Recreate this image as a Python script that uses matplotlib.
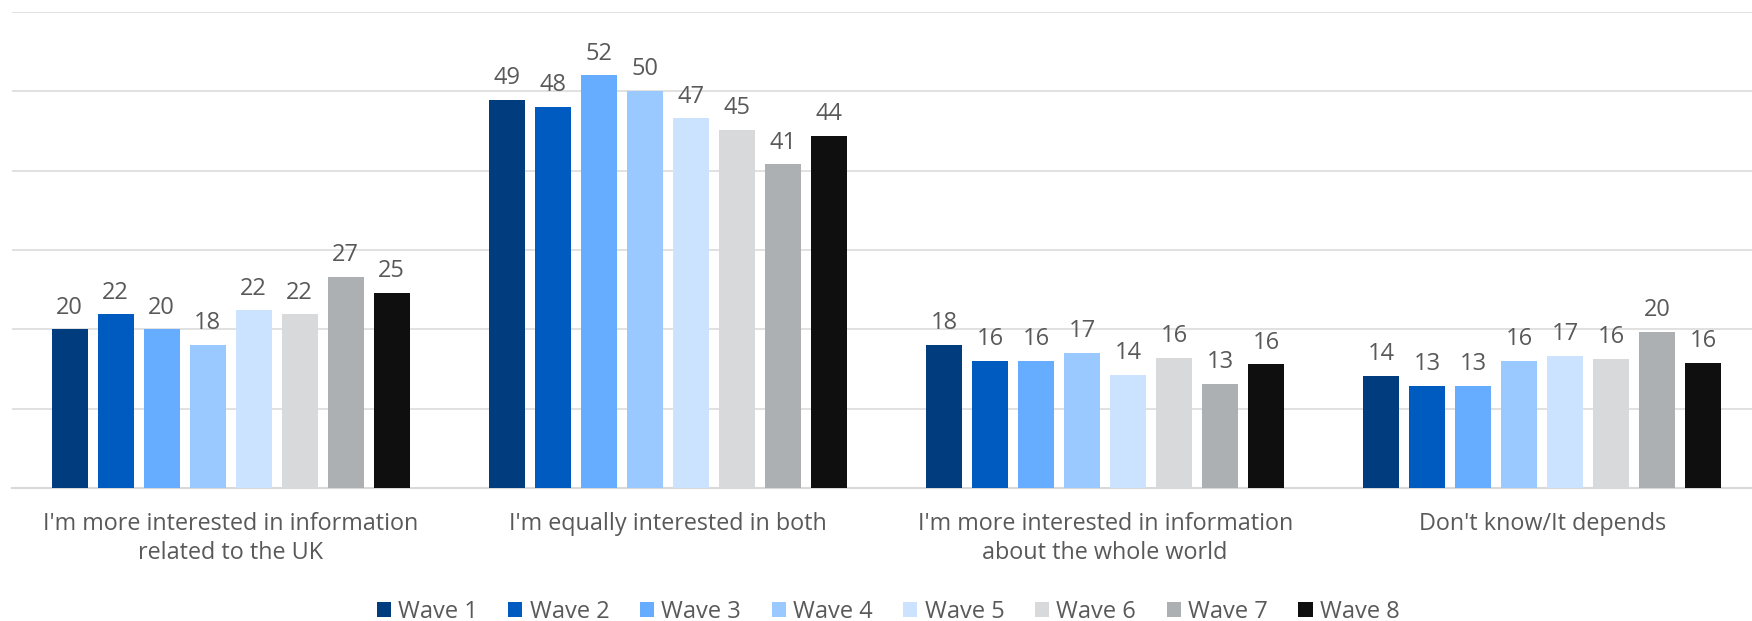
import numpy as np
import matplotlib
matplotlib.use('Agg')
from matplotlib import pyplot as plt

plt.rcParams['font.family'] = ['Open Sans', 'DejaVu Sans']

categories = ["I'm more interested in information\nrelated to the UK",
              "I'm equally interested in both",
              "I'm more interested in information\nabout the whole world",
              "Don't know/It depends"]
waves = ['Wave 1', 'Wave 2', 'Wave 3', 'Wave 4', 'Wave 5', 'Wave 6', 'Wave 7', 'Wave 8']
colors = ['#003C7E', '#005BC1', '#66ADFF', '#99C9FF', '#CCE3FF', '#D8D9DB', '#ADB0B3', '#0F0F0F']

# one list per wave, one value per category
wave1 = [20.0, 48.9, 18.0, 14.1]
wave2 = [21.9, 48.0, 16.0, 12.9]
wave3 = [20.0, 52.0, 16.0, 12.9]
wave4 = [18.0, 50.1, 17.0, 16.0]
wave5 = [22.4, 46.6, 14.3, 16.7]
wave6 = [21.9, 45.1, 16.4, 16.3]
wave7 = [26.6, 40.8, 13.1, 19.7]
wave8 = [24.6, 44.4, 15.6, 15.8]
values = [wave1, wave2, wave3, wave4, wave5, wave6, wave7, wave8]

txt = '#595959'
fs = 17
fig = plt.figure(figsize=(17.52, 6.21), dpi=100)
ax = fig.add_axes([12/1752, 1-488/621, 1749/1752, 476/621])

x = np.arange(len(categories))
step = 0.1052
width = 0.0824
for i in range(len(waves)):
    off = (i - 3.5) * step
    bars = ax.bar(x + off, values[i], width, color=colors[i], label=waves[i], zorder=3)
    ax.bar_label(bars, labels=['{:.0f}'.format(v) for v in values[i]],
                 padding=7, fontsize=fs, color=txt)

ax.set_xlim(-0.5, 3.5)
ax.set_ylim(0, 60)
ax.set_yticks(np.arange(0, 61, 10))
ax.set_yticklabels([])
ax.tick_params(axis='y', length=0)
ax.yaxis.grid(True, color='#D9D9D9', linewidth=1.1, zorder=0)
ax.set_axisbelow(True)
ax.set_xticks(x)
ax.set_xticklabels(categories, fontsize=16.8, color=txt, linespacing=1.28)
ax.tick_params(axis='x', length=0, pad=17)
for s in ['top', 'right', 'left']:
    ax.spines[s].set_visible(False)
ax.spines['bottom'].set_color('#D9D9D9')
ax.spines['bottom'].set_linewidth(1.5)

leg = fig.legend(loc='center', bbox_to_anchor=(888/1752, 1-612/621), ncol=8,
                 frameon=False, fontsize=fs, handlelength=0.6, handleheight=0.6,
                 handletextpad=0.3, columnspacing=1.3, borderpad=0)
for t in leg.get_texts():
    t.set_color(txt)

plt.savefig('out.png', dpi=100)
